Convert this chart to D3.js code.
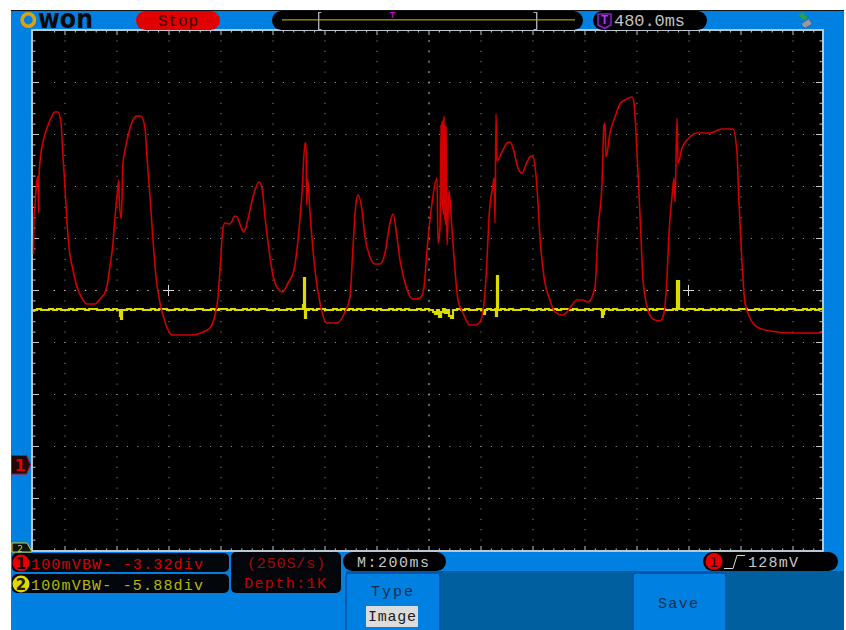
<!DOCTYPE html>
<html><head><meta charset="utf-8">
<script src="https://cdn.jsdelivr.net/npm/d3@7"></script>
<style>html,body{margin:0;padding:0;background:#fff}svg{display:block}text{font-family:"Liberation Mono","DejaVu Sans Mono",monospace}</style>
</head><body><svg id="c" width="846" height="630"></svg>
<script>
// Channel 1 trace: screen sample index and display level (52 levels per division)
const ch1Sample=[0.5,1,2,3,4,5,5.5,6,7,10,14,18,22,25,28,30,32,34,36,40,44,49,54,62,67,73,77,80,82,84,85.7,86.3,88.3,90,92,96,100,104,108,112,114,117,120,123,127,132,139,147,159,170,177,182,185,187,190,192,197,202,204,208,211,214,220,226,229,232,237,241,249,255,261,265,269,272,273,273.7,274.7,277,282,287,294,304,312,317,320,323,325,329,332,337,342,347,352,357,360,364,367,372,380,387,391,394,399,404,405,407,408,408.5,409,409.5,410,410.5,411,411.5,412,412.5,413,413.5,414,416,419,422,425,430,437,442,447,451,454,456,460,461,462,463,464,469,474,477,480,485,489,494,498,500,504,507,511,517,522,529,534,539,544,549,555,562,565,569,571,572,573,577,582,587,592,599,601,603,605,608,610,615,620,627,631,634,636,639,641,642,644,645,649,655,664,677,689,700,704,706,709,712,717,724,737,760,789];
const ch1Level=[296,334,345,360,370,374,337,372,388,408,422,432,438,438,427,393,363,327,303,280,263,252,246,246,251,260,284,307,333,353,370,350,331,387,400,418,430,434,434,422,393,353,310,273,247,228,215,215,215,218,222,235,253,280,322,327,326,334,333,323,318,327,353,368,362,333,293,270,258,267,280,310,357,407,407,345,371,337,280,247,227,227,238,253,303,347,355,340,313,293,286,286,297,327,336,313,290,267,251,252,263,300,347,372,307,322,425,345,428,340,430,335,434,330,425,325,423,360,305,360,320,280,250,237,225,225,228,247,290,333,365,372,327,436,389,398,407,408,402,382,377,388,394,393,363,313,273,250,238,235,238,245,250,250,248,263,320,367,425,427,393,417,433,446,450,453,447,417,377,313,270,240,231,229,237,273,317,353,372,348,432,387,402,411,417,417,421,421,397,347,287,247,232,223,219,217,217];
// Channel 2 trace
const ch2Sample=[0,4,8,12,16,20,24,28,32,36,40,44,48,52,56,60,64,68,72,76,80,84,87,88,89,90,94,98,102,106,110,114,118,122,126,130,134,138,142,146,150,154,158,162,166,170,174,178,182,186,190,194,198,202,206,210,214,218,222,226,230,234,238,242,246,250,254,258,262,266,270,271,272,273,274,276,280,284,288,292,296,300,304,308,312,316,320,324,328,332,336,340,344,348,352,356,360,364,368,372,376,380,384,388,392,396,400,402,404,406,408,410,412,414,416,418,420,424,428,432,436,440,444,448,451,452,454,458,462,463,464,465,468,472,476,480,484,488,492,496,500,504,508,512,516,520,524,528,532,536,540,544,548,552,556,560,564,568,569,570,571,572,576,580,584,588,592,596,600,604,608,612,616,620,624,628,632,636,640,643,644,645,646,650,654,658,662,666,670,674,678,682,686,690,694,698,702,706,710,714,718,722,726,730,734,738,742,746,750,754,758,762,766,770,774,778,782,786,789];
const ch2Level=[240,241,240,240,241,240,241,240,240,241,240,241,241,240,241,241,240,240,241,240,241,240,234,231,240,240,241,240,241,241,240,240,241,240,241,241,240,240,241,240,241,240,240,241,241,240,240,241,240,241,241,240,241,240,240,241,240,241,240,241,241,240,240,241,240,240,241,240,241,241,245,272,232,241,240,241,240,241,241,240,240,241,240,241,240,241,240,241,240,241,241,240,241,240,240,241,240,241,240,241,240,240,241,240,241,240,238,236,240,233,238,241,237,240,234,232,240,241,240,241,240,240,241,240,236,240,241,240,241,234,274,240,241,240,241,240,240,241,241,240,240,241,240,241,240,241,240,241,241,240,241,240,240,241,240,241,241,240,233,236,240,241,240,241,240,240,241,240,241,240,241,240,241,240,241,241,240,240,241,240,269,269,241,240,241,241,240,241,240,240,241,240,241,240,241,240,240,241,241,240,240,241,240,241,241,241,240,241,240,241,241,240,240,241,240,241,240,241,240,241];
const xDivisionTicks=d3.range(-36,39); // minor marks, 5 per division, relative to screen centre
const yDivisionTicks=d3.range(-25,26);
const statusLabels=["Stop","480.0ms","M:200ms","128mV"];
const channelLabels=["100mVBW- -3.32div","100mVBW- -5.88div"];
const sampleLabels=["(250S/s)","Depth:1K"];
const menuLabels=["Type","Image","Save"];

const svg=d3.select("#c");
const x=d3.scaleLinear().domain([0,789]).range([33,822]);
const y=d3.scaleLinear().domain([0,519]).range([550,31]);
const gx=d3.scaleLinear().domain([0,5]).range([429,481]);   // minor marks to px
const gy=d3.scaleLinear().domain([0,5]).range([290.5,342.5]);
const BLUE="#0080e0",DARK="#005f9f",RED="#e00000";
const SANS={"font-family":"DejaVu Sans",style:"font-family:'DejaVu Sans'"};
const SANSB={"font-family":"DejaVu Sans","font-weight":"bold",style:"font-family:'DejaVu Sans'"};

function rect(a,b,w,h,fill,r,ex){const s=svg.append("rect").attr("x",a).attr("y",b).attr("width",w).attr("height",h).attr("fill",fill);if(r)s.attr("rx",r).attr("ry",r);if(ex)for(const k in ex)s.attr(k,ex[k]);return s;}
function label(t,a,b,size,fill,anchor,len,ex){const s=svg.append("text").text(t).attr("x",a).attr("y",b).attr("font-size",size).attr("fill",fill).attr("text-anchor",anchor||"start");if(len)s.attr("textLength",len).attr("lengthAdjust","spacing");if(ex)for(const k in ex)s.attr(k,ex[k]);return s;}

// frame
rect(11,10,833,620,BLUE);
rect(11,10,833,1,"#10131a");
rect(346,571,498,59,DARK);

// screen
rect(33,31,789,519,"#000");
svg.append("rect").attr("x",32).attr("y",30).attr("width",791).attr("height",521).attr("fill","none").attr("stroke","#cfcfcf").attr("stroke-width",1.8);

// grid
const grid=svg.append("g");
const xs=xDivisionTicks.map(d=>gx(d)).filter(v=>v>34&&v<821);
const ys=yDivisionTicks.map(d=>gy(d)).filter(v=>v>32&&v<549);
const majX=xDivisionTicks.filter(d=>d%5===0).map(d=>gx(d)).filter(v=>v>34&&v<821);
const majY=yDivisionTicks.filter(d=>d%5===0).map(d=>gy(d)).filter(v=>v>32&&v<549);
majY.forEach(yy=>{const c=Math.abs(yy-290.5)<1;
  xs.forEach(xx=>{
    grid.append("rect").attr("x",xx-(c?1:0.5)).attr("y",yy-0.5).attr("width",c?1.5:1).attr("height",1).attr("fill",c?"#c8c8c8":"#a0a0a0");});});
majX.forEach(xx=>{const c=Math.abs(xx-429)<1;
  ys.forEach(yy=>{grid.append("rect").attr("x",xx-0.5).attr("y",yy-(c?1:0.5)).attr("width",1).attr("height",c?2:1).attr("fill",c?"#c8c8c8":"#a0a0a0");});});
// edge ticks
xs.forEach(xx=>{const m=majX.some(v=>Math.abs(v-xx)<1);const l=m?4:1.5;
  grid.append("rect").attr("x",xx-0.5).attr("y",31).attr("width",1).attr("height",l).attr("fill","#c8c8c8");
  grid.append("rect").attr("x",xx-0.5).attr("y",550-l).attr("width",1).attr("height",l).attr("fill","#c8c8c8");});
ys.forEach(yy=>{const m=majY.some(v=>Math.abs(v-yy)<1);const l=m?6:2.5;
  grid.append("rect").attr("x",33).attr("y",yy-0.5).attr("width",l).attr("height",1).attr("fill","#c8c8c8");
  grid.append("rect").attr("x",822-l).attr("y",yy-0.5).attr("width",l).attr("height",1).attr("fill","#c8c8c8");});
// cursor crosses
[168.5,688.5].forEach(cx=>{
  grid.append("rect").attr("x",cx-5.5).attr("y",290).attr("width",11).attr("height",1).attr("fill","#d8d8d8");
  grid.append("rect").attr("x",cx-0.5).attr("y",285).attr("width",1).attr("height",11).attr("fill","#d8d8d8");
});

// traces
const line2=d3.line().x((d,i)=>x(ch2Sample[i])).y(d=>y(d)).curve(d3.curveStepAfter);
svg.append("path").datum(ch2Level).attr("d",line2).attr("fill","none").attr("stroke","#dcdc00").attr("stroke-width",2.2);
const line1=d3.line().x((d,i)=>x(ch1Sample[i])).y(d=>y(d)).curve(d3.curveMonotoneX);
svg.append("path").datum(ch1Level).attr("d",line1).attr("fill","none").attr("stroke","#d00000").attr("stroke-width",1.6).attr("stroke-linejoin","round");

// logo
svg.append("circle").attr("cx",28.3).attr("cy",20).attr("r",6.2).attr("fill","none").attr("stroke","#dca010").attr("stroke-width",3.6);
label("won",38,28,27,"#0a0a0a","start",55,Object.assign({},SANSB,{lengthAdjust:"spacingAndGlyphs"}));

// stop pill
rect(136,11,84,19,RED,9.5);
label(statusLabels[0],178,25.5,16,"#3a0a0a","middle",40);

// timeline
rect(272,11,311,19,"#000",9.5);
svg.append("rect").attr("x",282).attr("y",19).attr("width",293).attr("height",1.6).attr("fill","#7d7d00");
[318,536].forEach((b,i)=>{
  svg.append("rect").attr("x",b).attr("y",12).attr("width",1.4).attr("height",18).attr("fill","#aaa");
  svg.append("rect").attr("x",i?b-2.5:b).attr("y",12).attr("width",3.5).attr("height",1).attr("fill","#aaa");
  svg.append("rect").attr("x",i?b-2.5:b).attr("y",29).attr("width",3.5).attr("height",1).attr("fill","#aaa");
});
label("T",392.5,17.5,9,"#d000d0","middle",null,{"font-weight":"bold"});

// time pill
rect(593,11,114,19,"#000",9.5);
svg.append("path").attr("d","M598 14h13v11l-6.5 3.5l-6.5-3.5z").attr("fill","#140420").attr("stroke","#8020c0").attr("stroke-width",1.6);
label("T",604.5,24,12,"#a040e0","middle",null,{"font-weight":"bold"});
label(statusLabels[1],614,26,17,"#c0c0c0","start",71);

// usb icon
svg.append("path").attr("d","M801 24l8-5l3 5l-7 4z").attr("fill","#9a9a9a").attr("stroke","#5a6a7a").attr("stroke-width",0.8);
svg.append("path").attr("d","M798 16l5-4l1 3l3 1l-1 4l-2-1l-2 1l-1-3z").attr("fill","#30a040");

// ground markers
svg.append("path").attr("d","M11.5 455.5h15l4 9l-4 9.5h-15z").attr("fill","#200808").attr("stroke","#d80000").attr("stroke-width",1);
label("1",20,471,16,"#e00000","middle",null,SANSB);
svg.append("path").attr("d","M12 552v-9h15l5 9z").attr("fill","#111").attr("stroke","#d8d000").attr("stroke-width",1);
label("2",20,552,9,"#d8d000","middle",null,SANS);

// channel boxes
rect(12,553,217,19,"#03070c",5);
rect(12,574,217,19,"#03070c",5);
svg.append("circle").attr("cx",21).attr("cy",563).attr("r",8.5).attr("fill","#e80000");
svg.append("circle").attr("cx",21).attr("cy",584).attr("r",8.5).attr("fill","#e0d800");
label("1",21,568.5,15,"#200000","middle",null,SANSB);
label("2",21,589.5,15,"#202000","middle",null,SANSB);
label(channelLabels[0],31,569,15,"#d80000","start",172);
label(channelLabels[1],31,590,15,"#b8b800","start",172);

// sample box
rect(231,552,110,41,"#03070c",5);
label(sampleLabels[0],286,568,15,"#a00808","middle",78);
label(sampleLabels[1],285,588,15,"#c00000","middle",82);

// M pill
rect(343,552,103,19,"#000",9.5);
label(statusLabels[2],393,567,15,"#c8c8c8","middle",72);

// trigger pill
rect(703,552,135,19,"#000",9.5);
svg.append("circle").attr("cx",714).attr("cy",561.5).attr("r",8.5).attr("fill","#e80000");
label("1",714,566.5,14,"#200000","middle",null,SANS);
svg.append("path").attr("d","M724 568.5h9l4-13h8").attr("fill","none").attr("stroke","#d8d8d8").attr("stroke-width",1);
label(statusLabels[3],748,567,15,"#c8c8c8","start",50);

// menu buttons
[[346,94],[633,93]].forEach(b=>{
  rect(b[0],573,b[1],60,BLUE,3,{stroke:"#0050a8","stroke-width":1.5});
});
label(menuLabels[0],392,596,15,"#103050","middle",42);
rect(366,606,52,21,"#dcdcdc");
label(menuLabels[1],392,621,15,"#202020","middle",48);
label(menuLabels[2],678,608,15,"#103050","middle",40);
</script></body></html>
